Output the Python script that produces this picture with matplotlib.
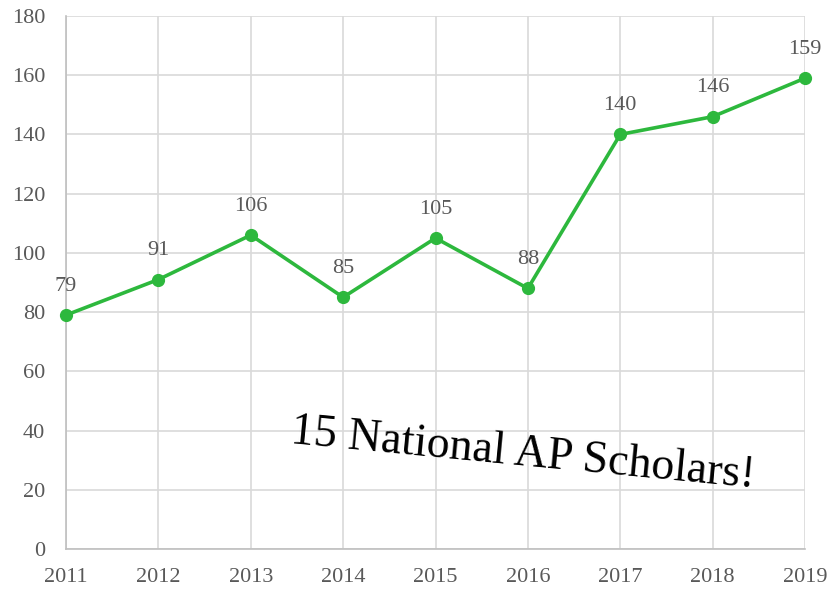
import matplotlib
matplotlib.use('Agg')
import matplotlib.pyplot as plt

years = [2011, 2012, 2013, 2014, 2015, 2016, 2017, 2018, 2019]
scholars = [79, 91, 106, 85, 105, 88, 140, 146, 159]
y_ticks = [0, 20, 40, 60, 80, 100, 120, 140, 160, 180]
note = '15 National AP Scholars!'

green = '#2db83d'
grey_txt = '#595959'
grid_col = '#d9d9d9'

plt.rcParams['font.family'] = ['Liberation Serif', 'DejaVu Serif']

fig = plt.figure(figsize=(8.33, 5.91), dpi=100)
ax = fig.add_axes([66/833, 42/591, 739/833, 533/591])

ax.plot(years, scholars, color=green, lw=2.6, marker='o', ms=8.5, zorder=3, clip_on=False)
for x, y in zip(years, scholars):
    ax.annotate(str(y), (x, y), xytext=(0, 14), textcoords='offset points',
                ha='center', va='bottom', fontsize=16, color=grey_txt)

ax.set_xlim(years[0], years[-1])
ax.set_ylim(0, 180)
ax.set_xticks(years)
ax.set_yticks(y_ticks)
ax.grid(True, color=grid_col, lw=1.2)
ax.set_axisbelow(True)
for s in ['top', 'right']:
    ax.spines[s].set_visible(False)
for s in ['left', 'bottom']:
    ax.spines[s].set_color('#bfbfbf')
    ax.spines[s].set_linewidth(1.2)
ax.tick_params(length=0, labelsize=16, labelcolor=grey_txt)
ax.tick_params(axis='y', pad=15)
ax.tick_params(axis='x', pad=14)

ax.text(2015.95, 32, note, rotation=-5.5, ha='center', va='center',
        fontsize=33, color='black', rotation_mode='anchor')

fig.savefig('out.png', dpi=100)
